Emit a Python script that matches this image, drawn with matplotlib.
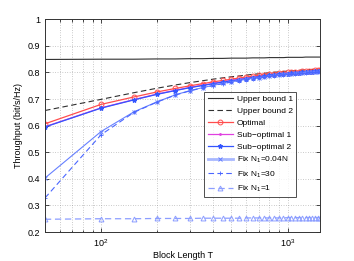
import numpy as np
import matplotlib
matplotlib.use("Agg")
import matplotlib.pyplot as plt
from matplotlib.ticker import LogLocator, NullFormatter, FixedLocator
from matplotlib.lines import Line2D

T = [50, 100, 150, 200, 250, 300, 350, 400, 450, 500, 550, 600, 650, 700, 750,
     800, 850, 900, 950, 1000, 1050, 1100, 1150, 1200, 1250, 1300, 1350, 1400, 1450, 1500]

upper1 = [0.849, 0.850, 0.850, 0.851, 0.851, 0.852, 0.852, 0.853, 0.853, 0.854,
          0.854, 0.854, 0.855, 0.855, 0.855, 0.856, 0.856, 0.856, 0.856, 0.857,
          0.857, 0.857, 0.857, 0.857, 0.858, 0.858, 0.858, 0.858, 0.858, 0.858]
upper2 = [0.657, 0.699, 0.724, 0.741, 0.753, 0.762, 0.769, 0.775, 0.780, 0.784,
          0.787, 0.790, 0.793, 0.795, 0.797, 0.799, 0.801, 0.802, 0.804, 0.805,
          0.806, 0.807, 0.808, 0.809, 0.810, 0.811, 0.811, 0.812, 0.812, 0.813]
optimal = [0.607, 0.680, 0.708, 0.727, 0.740, 0.750, 0.758, 0.765, 0.770, 0.775,
           0.779, 0.783, 0.786, 0.789, 0.791, 0.793, 0.795, 0.797, 0.799, 0.800,
           0.801, 0.802, 0.803, 0.804, 0.805, 0.806, 0.807, 0.808, 0.808, 0.809]
subopt1 = [0.596, 0.667, 0.698, 0.719, 0.733, 0.744, 0.752, 0.759, 0.765, 0.770,
           0.774, 0.778, 0.782, 0.785, 0.787, 0.790, 0.792, 0.794, 0.796, 0.797,
           0.798, 0.799, 0.800, 0.801, 0.802, 0.803, 0.804, 0.805, 0.805, 0.806]
subopt2 = [0.595, 0.666, 0.697, 0.718, 0.732, 0.743, 0.751, 0.758, 0.764, 0.769,
           0.773, 0.777, 0.781, 0.784, 0.786, 0.789, 0.791, 0.793, 0.795, 0.796,
           0.797, 0.798, 0.799, 0.800, 0.801, 0.802, 0.803, 0.804, 0.804, 0.805]
fix004 = [0.403, 0.578, 0.652, 0.690, 0.716, 0.732, 0.743, 0.752, 0.759, 0.765,
          0.770, 0.774, 0.778, 0.781, 0.784, 0.787, 0.789, 0.791, 0.793, 0.795,
          0.796, 0.797, 0.798, 0.799, 0.800, 0.801, 0.802, 0.803, 0.803, 0.804]
fix30 = [0.328, 0.566, 0.650, 0.689, 0.715, 0.731, 0.742, 0.751, 0.758, 0.764,
         0.769, 0.773, 0.777, 0.780, 0.783, 0.786, 0.788, 0.790, 0.792, 0.794,
         0.795, 0.796, 0.797, 0.798, 0.799, 0.800, 0.801, 0.802, 0.802, 0.803]
fix1 = [0.248, 0.250, 0.250, 0.251, 0.251, 0.251, 0.252, 0.252, 0.252, 0.252,
        0.252, 0.253, 0.253, 0.253, 0.253, 0.253, 0.253, 0.253, 0.253, 0.254,
        0.254, 0.254, 0.254, 0.254, 0.254, 0.254, 0.254, 0.254, 0.254, 0.254]

labels = ["Upper bound 1", "Upper bound 2", "Optimal", "Sub\u2212optimal 1",
          "Sub\u2212optimal 2", r"Fix N$_1$=0.04N", r"Fix N$_1$=30", r"Fix N$_1$=1"]
yticks = [0.2, 0.3, 0.4, 0.5, 0.6, 0.7, 0.8, 0.9, 1.0]
yticklabels = ["0.2", "0.3", "0.4", "0.5", "0.6", "0.7", "0.8", "0.9", "1"]

plt.rcParams['font.family'] = ['Liberation Sans', 'DejaVu Sans']
plt.rcParams['mathtext.fontset'] = 'custom'
plt.rcParams['mathtext.rm'] = 'Liberation Sans'
plt.rcParams['mathtext.it'] = 'Liberation Sans:italic'
fs = 6.5
lfs = 6.0

fig = plt.figure(figsize=(3.54, 2.61), dpi=100)
ax = fig.add_axes([0.127, 0.111, 0.778, 0.815])

dash = (0, (5, 3))
h1, = ax.plot(T, upper1, color='#303030', lw=0.8)
h2, = ax.plot(T, upper2, color='#303030', lw=0.8, ls=dash)
h3, = ax.plot(T, optimal, color='#ff4d4d', lw=0.9, marker='o', ms=3.5, mfc='none', mew=0.7)
h4, = ax.plot(T, subopt1, color='#e040e0', lw=0.9, marker='.', ms=2.0)
h5, = ax.plot(T, subopt2, color='#3355ff', lw=0.9, marker='*', ms=3.2)
ax.plot(T, fix004, color='#6680ff', lw=0.8, marker='x', ms=3.0, mew=0.7)
h7, = ax.plot(T, fix30, color='#4a66ff', lw=0.8, ls=dash, marker='+', ms=3.5, mew=0.6)
h8, = ax.plot(T, fix1, color='#8c9eff', lw=0.9, ls=dash, marker='^', ms=3.5, mfc='none', mew=0.7)

ax.set_xscale('log')
ax.set_xlim(50, 1500)
ax.set_ylim(0.2, 1.0)
ax.set_yticks(yticks)
ax.set_yticklabels(yticklabels)
ax.xaxis.set_major_locator(FixedLocator([100, 1000]))
ax.set_xticklabels([r'$10^2$', r'$10^3$'])
ax.xaxis.set_minor_locator(LogLocator(base=10, subs=np.arange(2, 10), numticks=20))
ax.xaxis.set_minor_formatter(NullFormatter())
ax.tick_params(which='both', direction='in', top=True, right=True, labelsize=fs, width=0.5)
ax.tick_params(which='major', length=3)
ax.tick_params(which='minor', length=1.8)
ax.grid(True, which='major', ls=(0, (1, 2.5)), color='#999999', lw=0.5)
ax.grid(True, which='minor', axis='x', ls=(0, (1, 2.5)), color='#999999', lw=0.5)
for s in ax.spines.values():
    s.set_linewidth(0.7)
    s.set_color('#333333')

ax.set_xlabel('Block Length T', fontsize=fs, labelpad=2)
ax.set_ylabel('Throughput (bit/s/Hz)', fontsize=fs, labelpad=3)

h_thick = Line2D([], [], color='#a8b8ff', lw=2.0)
h_x = Line2D([], [], color='#6680ff', lw=0, marker='x', ms=3.0, mew=0.7)
handles = [h1, h2, h3, h4, h5, (h_thick, h_x), h7, h8]
leg = ax.legend(handles, labels, loc='upper right', bbox_to_anchor=(0.912, 0.66),
                fontsize=lfs, frameon=True, fancybox=False, edgecolor='#222222',
                handlelength=3.0, labelspacing=0.5, borderpad=0.4, handletextpad=0.5,
                borderaxespad=0)
leg.get_frame().set_linewidth(0.7)

fig.savefig('out.png', dpi=100)
